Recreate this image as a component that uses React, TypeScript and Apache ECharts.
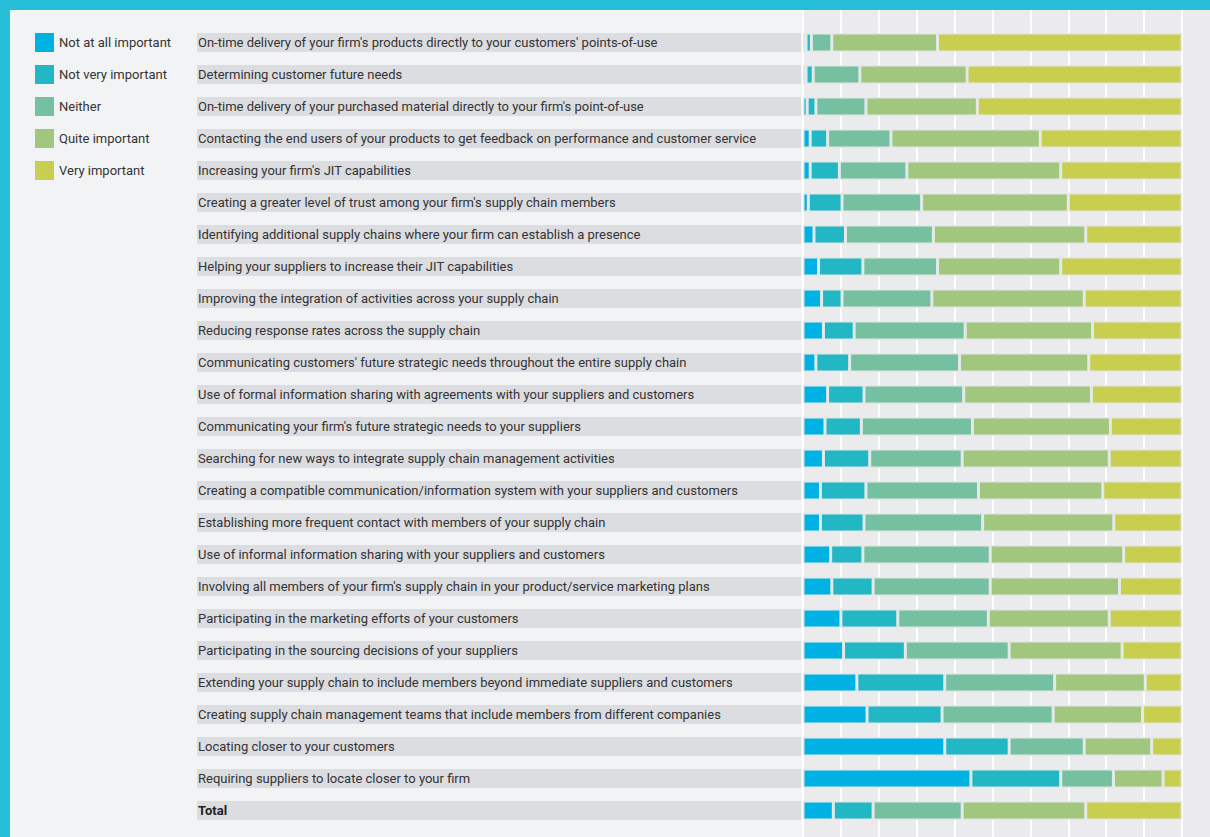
import React, { useEffect, useRef } from "react";
import * as echarts from "echarts";

const categories: string[] = [
  "On-time delivery of your firm's products directly to your customers' points-of-use",
  "Determining customer future needs",
  "On-time delivery of your purchased material directly to your firm's point-of-use",
  "Contacting the end users of your products to get feedback on performance and customer service",
  "Increasing your firm's JIT capabilities",
  "Creating a greater level of trust among your firm's supply chain members",
  "Identifying additional supply chains where your firm can establish a presence",
  "Helping your suppliers to increase their JIT capabilities",
  "Improving the integration of activities across your supply chain",
  "Reducing response rates across the supply chain",
  "Communicating customers' future strategic needs throughout the entire supply chain",
  "Use of formal information sharing with agreements with your suppliers and customers",
  "Communicating your firm's future strategic needs to your suppliers",
  "Searching for new ways to integrate supply chain management activities",
  "Creating a compatible communication/information system with your suppliers and customers",
  "Establishing more frequent contact with members of your supply chain",
  "Use of informal information sharing with your suppliers and customers",
  "Involving all members of your firm's supply chain in your product/service marketing plans",
  "Participating in the marketing efforts of your customers",
  "Participating in the sourcing decisions of your suppliers",
  "Extending your supply chain to include members beyond immediate suppliers and customers",
  "Creating supply chain management teams that include members from different companies",
  "Locating closer to your customers",
  "Requiring suppliers to locate closer to your firm",
  "Total",
];

const seriesNames: string[] = [
  "Not at all important",
  "Not very important",
  "Neither",
  "Quite important",
  "Very important",
];

const notAtAll: number[] = [0.8, 0.8, 1.1, 1.9, 1.9, 1.4, 2.9, 4.1, 4.9, 5.4, 3.4, 6.5, 5.8, 5.4, 4.6, 4.6, 7.3, 7.6, 10.0, 10.7, 14.2, 16.9, 37.4, 44.3, 8.0];
const notVery: number[] = [1.4, 1.9, 2.3, 4.6, 7.7, 8.9, 8.3, 11.7, 5.4, 8.1, 8.9, 9.6, 9.6, 12.2, 12.0, 11.5, 8.5, 10.9, 15.0, 16.3, 23.2, 19.8, 17.0, 23.7, 10.5];
const neither: number[] = [5.4, 12.3, 13.2, 16.7, 17.8, 21.0, 23.2, 19.7, 23.7, 29.3, 29.0, 26.3, 29.3, 24.4, 29.7, 31.3, 33.6, 30.9, 23.9, 27.4, 29.0, 29.3, 19.8, 13.9, 23.5];
const quite: number[] = [27.9, 28.3, 29.4, 39.4, 40.6, 38.7, 40.2, 32.5, 40.2, 33.6, 34.1, 33.7, 36.4, 38.8, 32.8, 34.6, 35.2, 34.1, 31.9, 29.8, 23.9, 23.6, 17.8, 13.1, 32.6];
const very: number[] = [64.5, 56.7, 54.0, 37.4, 32.0, 30.0, 25.4, 32.0, 25.8, 23.6, 24.6, 23.9, 18.9, 19.2, 20.9, 18.0, 15.4, 16.5, 19.2, 15.8, 9.7, 10.4, 8.0, 5.0, 25.4];

const seriesValues: number[][] = [notAtAll, notVery, neither, quite, very];
const colors: string[] = ["#00b2e3", "#21b7c4", "#74c0a0", "#a1c67e", "#c8cf4f"];

const FONT = "Roboto, 'Liberation Sans', Arial, sans-serif";

export default function App() {
  const ref = useRef<HTMLDivElement>(null);

  useEffect(() => {
    if (!ref.current) return;
    const chart = echarts.init(ref.current, undefined, { renderer: "svg" });
    const option: any = {
      animation: false,
      backgroundColor: "#f2f3f5",
      textStyle: { fontFamily: FONT },
      graphic: [
        { type: "rect", z: -1, silent: true, shape: { x: 802, y: 10, width: 408, height: 827 }, style: { fill: "#ebebed" } },
        { type: "rect", z: 100, silent: true, shape: { x: 0, y: 0, width: 1210, height: 10 }, style: { fill: "#26bdd7" } },
        { type: "rect", z: 100, silent: true, shape: { x: 0, y: 0, width: 10, height: 837 }, style: { fill: "#26bdd7" } },
      ],
      legend: {
        orient: "vertical",
        left: 35,
        top: 33,
        padding: 0,
        itemWidth: 19,
        itemHeight: 19,
        itemGap: 13,
        icon: "rect",
        itemStyle: { borderWidth: 0 },
        textStyle: { fontSize: 13, color: "#333", fontFamily: FONT },
        data: seriesNames,
        selectedMode: false,
      },
      grid: [
        { left: 803, right: 28, top: 26.5, bottom: 10.5, containLabel: false },
        { left: 803, right: 28, top: 10, bottom: 0, containLabel: false },
      ],
      xAxis: [
        { gridIndex: 0, type: "value", min: 0, max: 100, show: false },
        {
          gridIndex: 1,
          type: "value",
          min: 0,
          max: 100,
          interval: 10,
          axisLine: { show: false },
          axisTick: { show: false },
          axisLabel: { show: false },
          splitLine: { show: true, lineStyle: { color: "#ffffff", width: 2 } },
        },
      ],
      yAxis: [
        {
          gridIndex: 0,
          type: "category",
          inverse: true,
          data: categories,
          axisLine: { show: false },
          axisTick: { show: false },
          splitLine: { show: false },
          axisLabel: {
            interval: 0,
            margin: 606,
            align: "left",
            verticalAlign: "middle",
            width: 603,
            height: 19,
            lineHeight: 19,
            padding: [0, 0, 0, 1],
            backgroundColor: "#dcdde1",
            overflow: "none",
            fontSize: 13,
            color: "#333",
            fontFamily: FONT,
            formatter: (v: string) => (v === "Total" ? `{b|${v}}` : v),
            rich: {
              b: { fontWeight: "bold", fontSize: 13, color: "#222", fontFamily: FONT, lineHeight: 19 },
            },
          },
        },
        { gridIndex: 1, type: "value", min: 0, max: 1, show: false },
      ],
      series: seriesNames.map((name, i) => ({
        name,
        type: "bar",
        stack: "total",
        xAxisIndex: 0,
        yAxisIndex: 0,
        barWidth: 19,
        data: seriesValues[i],
        itemStyle: { color: colors[i], borderColor: "#e4e9e7", borderWidth: 1.5 },
        emphasis: { disabled: true },
      })),
    };
    chart.setOption(option);
    return () => chart.dispose();
  }, []);

  return <div ref={ref} style={{ position: "absolute", left: 0, top: 0, width: 1210, height: 837 }} />;
}
